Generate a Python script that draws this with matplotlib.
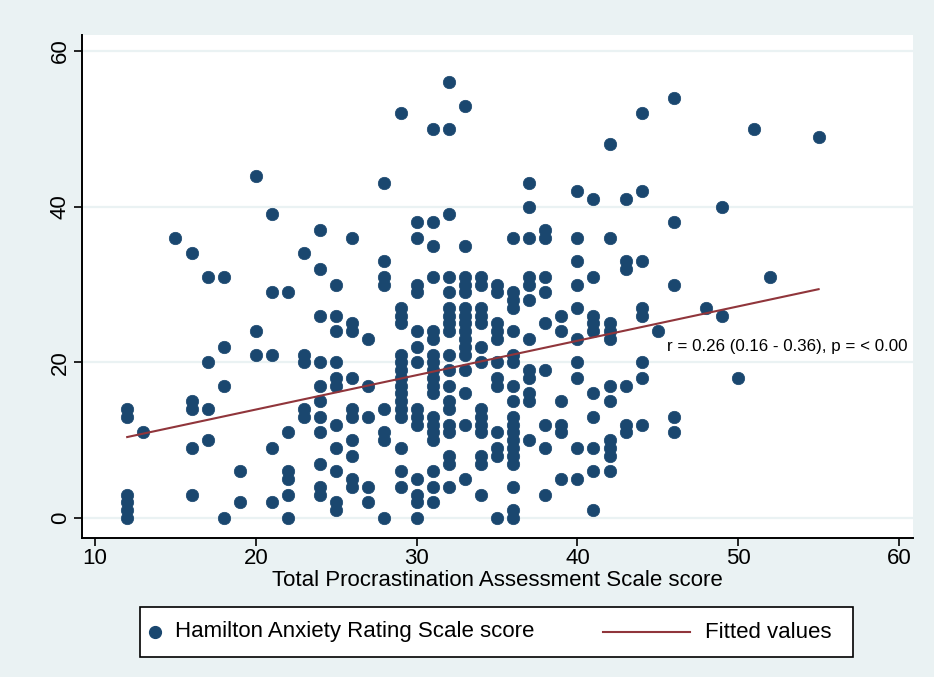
import matplotlib
matplotlib.use("Agg")
import matplotlib.pyplot as plt
from matplotlib.lines import Line2D
from matplotlib.patches import Rectangle

# ---- data ----
tpas_levels = [12, 13, 15, 16, 17, 18, 19, 20, 21, 22, 23, 24, 25, 26, 27, 28, 29, 30,
               31, 32, 33, 34, 35, 36, 37, 38, 39, 40, 41, 42, 43, 44, 45, 46, 48, 49,
               50, 51, 52, 55]
hama_by_level = [
    [14, 13, 3, 2, 1, 0],                                              # 12
    [11],                                                              # 13
    [36],                                                              # 15
    [34, 15, 14, 9, 3],                                                # 16
    [31, 20, 14, 10],                                                  # 17
    [31, 22, 17, 0],                                                   # 18
    [6, 2],                                                            # 19
    [44, 24, 21],                                                      # 20
    [39, 29, 21, 9, 2],                                                # 21
    [29, 11, 6, 5, 3, 0],                                              # 22
    [34, 21, 20, 14, 13],                                              # 23
    [37, 32, 26, 20, 17, 15, 13, 11, 7, 4, 3],                         # 24
    [30, 26, 24, 20, 18, 17, 12, 9, 6, 2, 1],                          # 25
    [36, 25, 24, 18, 14, 13, 10, 8, 5, 4],                             # 26
    [23, 17, 13, 4, 2],                                                # 27
    [43, 33, 31, 30, 14, 11, 10, 0],                                   # 28
    [52, 27, 26, 25, 21, 20, 19, 18, 17, 16, 15, 14, 13, 9, 6, 4],     # 29
    [38, 36, 30, 29, 24, 22, 20, 14, 13, 12, 5, 3, 2, 0],              # 30
    [50, 38, 35, 31, 24, 23, 21, 20, 19, 18, 17, 16, 13, 12, 11, 10, 6, 4, 2],  # 31
    [56, 50, 39, 31, 29, 27, 26, 25, 24, 21, 19, 17, 15, 14, 12, 11, 8, 7, 4],  # 32
    [53, 35, 31, 30, 29, 27, 26, 25, 24, 23, 22, 21, 19, 16, 12, 5],   # 33
    [31, 30, 27, 26, 25, 22, 20, 14, 13, 12, 11, 8, 7, 3],             # 34
    [30, 29, 25, 24, 23, 20, 18, 17, 11, 9, 8, 0],                     # 35
    [36, 29, 28, 27, 24, 21, 20, 17, 15, 13, 12, 11, 10, 9, 8, 7, 4, 1, 0],  # 36
    [43, 40, 36, 31, 30, 28, 23, 19, 18, 16, 15, 10],                  # 37
    [37, 36, 31, 29, 25, 19, 12, 9, 3],                                # 38
    [26, 24, 15, 12, 11, 5],                                           # 39
    [42, 36, 33, 30, 27, 23, 20, 18, 9, 5],                            # 40
    [41, 31, 26, 25, 24, 16, 13, 9, 6, 1],                             # 41
    [48, 36, 25, 24, 23, 17, 15, 10, 9, 8, 6],                         # 42
    [41, 33, 32, 17, 12, 11],                                          # 43
    [52, 42, 33, 27, 26, 20, 18, 12],                                  # 44
    [24],                                                              # 45
    [54, 38, 30, 13, 11],                                              # 46
    [27],                                                              # 48
    [40, 26],                                                          # 49
    [18],                                                              # 50
    [50],                                                              # 51
    [31],                                                              # 52
    [49],                                                              # 55
]
fit_x = [12, 55]
fit_y = [10.4, 29.4]
x_ticks = [10, 20, 30, 40, 50, 60]
y_ticks = [0, 20, 40, 60]
x_label = "Total Procrastination Assessment Scale score"
legend_labels = ["Hamilton Anxiety Rating Scale score", "Fitted values"]
annotation = "r = 0.26 (0.16 - 0.36), p = < 0.00"

# ---- expand ----
xs, ys = [], []
for lv, col in zip(tpas_levels, hama_by_level):
    xs += [lv] * len(col)
    ys += col

NAVY = "#1a476f"
MAROON = "#90353b"
BG = "#eaf2f3"
sans = ["Liberation Sans", "DejaVu Sans"]

W, H = 934, 677
fig = plt.figure(figsize=(W / 100, H / 100), dpi=100, facecolor=BG)

L, R, T, B = 82, 913, 35, 538
ax = fig.add_axes([L / W, 1 - B / H, (R - L) / W, (B - T) / H])
ax.set_facecolor("white")
ax.set_xlim(9.19, 60.87)
ax.set_ylim(-2.57, 62.06)

for s in ["top", "right"]:
    ax.spines[s].set_visible(False)
for s in ["left", "bottom"]:
    ax.spines[s].set_linewidth(1.4)
    ax.spines[s].set_color("black")

ax.set_yticks(y_ticks)
ax.set_xticks(x_ticks)
ax.grid(axis="y", color=BG, linewidth=1.6, zorder=0)
ax.set_axisbelow(True)
ax.tick_params(axis="both", direction="out", length=6, width=1.2, color="black")
ax.tick_params(axis="x", pad=1)
ax.tick_params(axis="y", pad=2)
for lab in ax.get_xticklabels():
    lab.set_family(sans); lab.set_fontsize(16)
for lab in ax.get_yticklabels():
    lab.set_family(sans); lab.set_fontsize(16); lab.set_rotation(90); lab.set_va("center")

ax.scatter(xs, ys, s=80, color=NAVY, edgecolors=NAVY, linewidths=0.5, zorder=3)
ax.plot(fit_x, fit_y, color=MAROON, linewidth=1.5, zorder=4)
ax.text(45.6, 22.0, annotation, family=sans, fontsize=12.2, va="center", ha="left", zorder=5)

ax.set_xlabel(x_label, family=sans, fontsize=16, labelpad=1)

# ---- legend (Stata style box below the plot) ----
def fx(px):
    return px / W

def fy(py):
    return 1 - py / H

fig.patches.append(Rectangle((fx(140), fy(657)), fx(853) - fx(140), fy(607) - fy(657),
                             transform=fig.transFigure, facecolor="white",
                             edgecolor="black", linewidth=1.2))
fig.lines.append(Line2D([fx(155)], [fy(632)], transform=fig.transFigure, marker="o",
                        markersize=8.5, color=NAVY, linestyle="none"))
fig.text(fx(175), fy(632), legend_labels[0], family=sans, fontsize=16, va="center", ha="left")
fig.lines.append(Line2D([fx(603), fx(690)], [fy(632), fy(632)], transform=fig.transFigure,
                        color=MAROON, linewidth=1.5))
fig.text(fx(705), fy(632), legend_labels[1], family=sans, fontsize=16, va="center", ha="left")

fig.savefig("out.png", dpi=100, facecolor=BG)
